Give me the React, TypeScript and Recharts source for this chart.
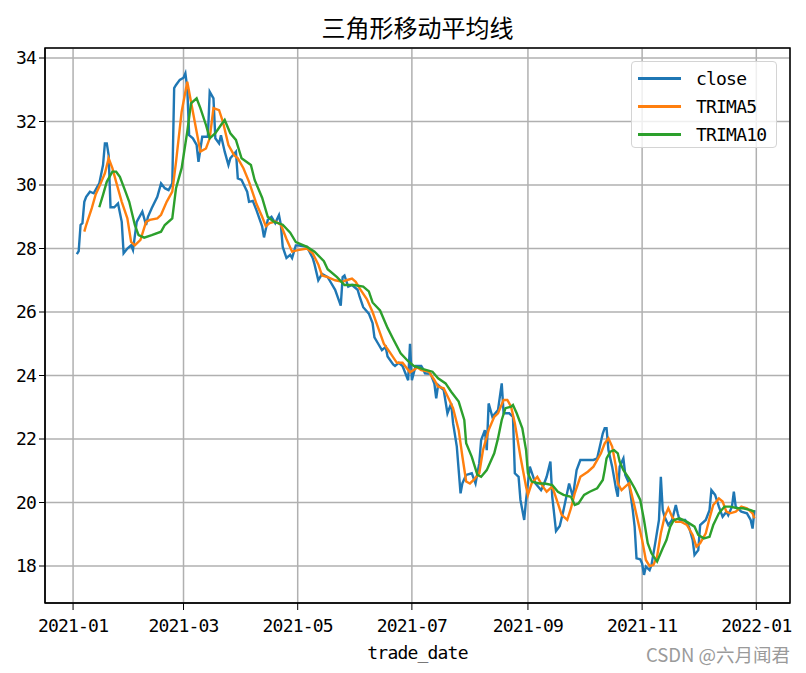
import { LineChart, Line, XAxis, YAxis, CartesianGrid, Legend, ReferenceArea } from 'recharts'

// values: [date, value]
const closeData: [string, number][] = [
  ['2021-01-03', 27.82], ['2021-01-04', 27.92], ['2021-01-05', 28.74], ['2021-01-06', 28.8],
  ['2021-01-07', 29.47], ['2021-01-08', 29.63], ['2021-01-10', 29.79], ['2021-01-12', 29.74],
  ['2021-01-14', 29.95], ['2021-01-15', 30.05], ['2021-01-17', 30.63], ['2021-01-18', 31.31],
  ['2021-01-19', 31.31], ['2021-01-20', 30.94], ['2021-01-21', 29.3], ['2021-01-23', 29.3],
  ['2021-01-25', 29.42], ['2021-01-27', 28.84], ['2021-01-28', 27.85], ['2021-01-30', 28.0],
  ['2021-02-01', 28.1], ['2021-02-02', 27.95], ['2021-02-04', 28.84], ['2021-02-05', 28.95],
  ['2021-02-07', 29.16], ['2021-02-09', 28.74], ['2021-02-10', 29.0], ['2021-02-12', 29.27],
  ['2021-02-15', 29.63], ['2021-02-17', 30.05], ['2021-02-19', 29.9], ['2021-02-21', 29.84],
  ['2021-02-23', 30.05], ['2021-02-24', 33.05], ['2021-02-25', 33.15], ['2021-02-27', 33.31],
  ['2021-03-01', 33.38], ['2021-03-02', 33.52], ['2021-03-03', 33.05], ['2021-03-04', 31.57],
  ['2021-03-06', 31.47], ['2021-03-08', 31.26], ['2021-03-09', 30.73], ['2021-03-11', 31.52],
  ['2021-03-14', 31.52], ['2021-03-15', 32.94], ['2021-03-17', 32.73], ['2021-03-18', 31.47],
  ['2021-03-20', 31.31], ['2021-03-21', 31.57], ['2021-03-23', 31.05], ['2021-03-25', 30.63],
  ['2021-03-26', 30.84], ['2021-03-29', 31.05], ['2021-03-30', 30.21], ['2021-04-01', 30.16],
  ['2021-04-04', 29.79], ['2021-04-05', 29.47], ['2021-04-07', 29.5], ['2021-04-09', 29.2],
  ['2021-04-12', 28.7], ['2021-04-13', 28.35], ['2021-04-15', 28.9], ['2021-04-17', 29.0],
  ['2021-04-19', 28.8], ['2021-04-21', 29.05], ['2021-04-22', 28.75], ['2021-04-23', 28.05],
  ['2021-04-25', 27.7], ['2021-04-27', 27.8], ['2021-04-28', 27.7], ['2021-04-30', 28.1],
  ['2021-05-01', 28.1], ['2021-05-06', 28.05], ['2021-05-09', 27.7], ['2021-05-10', 27.5],
  ['2021-05-12', 27.0], ['2021-05-14', 27.2], ['2021-05-17', 27.1], ['2021-05-18', 27.0],
  ['2021-05-21', 26.7], ['2021-05-24', 26.2], ['2021-05-25', 27.1], ['2021-05-26', 27.15],
  ['2021-05-28', 26.8], ['2021-05-30', 26.85], ['2021-06-02', 26.7], ['2021-06-03', 26.5],
  ['2021-06-05', 26.15], ['2021-06-08', 25.95], ['2021-06-10', 25.65], ['2021-06-11', 25.2],
  ['2021-06-13', 25.0], ['2021-06-15', 24.8], ['2021-06-17', 24.9], ['2021-06-18', 24.6],
  ['2021-06-21', 24.35], ['2021-06-22', 24.3], ['2021-06-24', 24.4], ['2021-06-26', 24.3],
  ['2021-06-29', 23.85], ['2021-06-30', 25.0], ['2021-07-01', 23.85], ['2021-07-03', 24.3],
  ['2021-07-06', 24.3], ['2021-07-07', 24.2], ['2021-07-08', 24.07], ['2021-07-11', 24.05],
  ['2021-07-13', 23.75], ['2021-07-14', 23.28], ['2021-07-15', 23.7], ['2021-07-18', 23.54],
  ['2021-07-20', 22.81], ['2021-07-22', 23.12], ['2021-07-23', 22.5], ['2021-07-25', 21.76],
  ['2021-07-27', 20.29], ['2021-07-28', 20.61], ['2021-07-30', 20.87], ['2021-08-02', 20.92],
  ['2021-08-04', 20.6], ['2021-08-06', 21.24], ['2021-08-07', 21.97], ['2021-08-09', 22.28],
  ['2021-08-10', 21.65], ['2021-08-11', 23.12], ['2021-08-13', 22.7], ['2021-08-16', 22.91],
  ['2021-08-18', 23.75], ['2021-08-19', 22.81], ['2021-08-22', 22.81], ['2021-08-24', 22.7],
  ['2021-08-25', 20.92], ['2021-08-27', 20.81], ['2021-08-28', 20.08], ['2021-08-30', 19.45],
  ['2021-08-31', 20.08], ['2021-09-02', 21.13], ['2021-09-05', 20.6], ['2021-09-08', 20.39],
  ['2021-09-09', 20.5], ['2021-09-11', 20.81], ['2021-09-13', 21.29], ['2021-09-14', 20.18],
  ['2021-09-16', 19.1], ['2021-09-18', 19.26], ['2021-09-20', 19.76], ['2021-09-23', 20.6],
  ['2021-09-25', 20.18], ['2021-09-27', 21.02], ['2021-09-29', 21.34], ['2021-10-03', 21.34],
  ['2021-10-06', 21.34], ['2021-10-08', 21.39], ['2021-10-11', 22.18], ['2021-10-12', 22.34],
  ['2021-10-13', 22.34], ['2021-10-14', 21.65], ['2021-10-16', 21.13], ['2021-10-18', 20.45],
  ['2021-10-19', 20.18], ['2021-10-20', 21.13], ['2021-10-22', 21.39], ['2021-10-23', 20.87],
  ['2021-10-25', 20.61], ['2021-10-27', 19.76], ['2021-10-28', 19.24], ['2021-10-29', 18.24],
  ['2021-10-31', 18.21], ['2021-11-01', 18.08], ['2021-11-02', 17.72], ['2021-11-03', 17.98],
  ['2021-11-05', 17.87], ['2021-11-06', 18.03], ['2021-11-08', 18.72], ['2021-11-10', 19.45],
  ['2021-11-11', 20.81], ['2021-11-12', 19.76], ['2021-11-13', 19.55], ['2021-11-15', 19.29],
  ['2021-11-17', 19.45], ['2021-11-19', 19.92], ['2021-11-20', 19.66], ['2021-11-21', 19.45],
  ['2021-11-24', 19.45], ['2021-11-26', 19.24], ['2021-11-28', 18.82], ['2021-11-29', 18.35],
  ['2021-12-01', 18.5], ['2021-12-02', 19.29], ['2021-12-05', 19.45], ['2021-12-07', 19.76],
  ['2021-12-08', 20.39], ['2021-12-10', 20.24], ['2021-12-12', 19.87], ['2021-12-14', 19.55],
  ['2021-12-16', 19.71], ['2021-12-17', 19.6], ['2021-12-19', 19.87], ['2021-12-20', 20.34],
  ['2021-12-21', 19.87], ['2021-12-24', 19.71], ['2021-12-27', 19.66], ['2021-12-29', 19.45],
  ['2021-12-30', 19.18], ['2021-12-31', 19.76],
]

const trima5Data: [string, number][] = [
  ['2021-01-07', 28.53], ['2021-01-08', 28.74], ['2021-01-11', 29.27], ['2021-01-13', 29.69],
  ['2021-01-15', 29.95], ['2021-01-18', 30.37], ['2021-01-20', 30.84], ['2021-01-22', 30.53],
  ['2021-01-24', 30.1], ['2021-01-27', 29.47], ['2021-01-30', 28.95], ['2021-02-01', 28.21],
  ['2021-02-03', 28.1], ['2021-02-06', 28.27], ['2021-02-09', 28.84], ['2021-02-11', 28.9],
  ['2021-02-15', 28.95], ['2021-02-17', 29.06], ['2021-02-20', 29.47], ['2021-02-23', 29.79],
  ['2021-02-25', 30.73], ['2021-02-28', 32.31], ['2021-03-03', 33.25], ['2021-03-05', 32.62],
  ['2021-03-08', 31.68], ['2021-03-10', 31.05], ['2021-03-13', 31.15], ['2021-03-15', 31.47],
  ['2021-03-17', 32.42], ['2021-03-20', 32.36], ['2021-03-22', 32.0], ['2021-03-25', 31.26],
  ['2021-03-28', 30.94], ['2021-03-30', 30.84], ['2021-04-02', 30.53], ['2021-04-05', 30.1],
  ['2021-04-09', 29.4], ['2021-04-12', 29.0], ['2021-04-14', 28.7], ['2021-04-16', 28.8],
  ['2021-04-19', 28.85], ['2021-04-22', 28.75], ['2021-04-25', 28.3], ['2021-04-28', 27.9],
  ['2021-05-01', 27.95], ['2021-05-06', 28.0], ['2021-05-09', 27.85], ['2021-05-12', 27.5],
  ['2021-05-14', 27.15], ['2021-05-17', 27.1], ['2021-05-21', 27.0], ['2021-05-25', 26.95],
  ['2021-05-27', 27.0], ['2021-05-30', 27.05], ['2021-06-01', 26.95], ['2021-06-03', 26.75],
  ['2021-06-07', 26.4], ['2021-06-10', 26.0], ['2021-06-13', 25.5], ['2021-06-16', 25.0],
  ['2021-06-19', 24.75], ['2021-06-23', 24.4], ['2021-06-26', 24.4], ['2021-06-30', 24.1],
  ['2021-07-04', 24.25], ['2021-07-06', 24.17], ['2021-07-10', 24.12], ['2021-07-13', 23.86],
  ['2021-07-15', 23.65], ['2021-07-18', 23.6], ['2021-07-21', 23.23], ['2021-07-23', 22.97],
  ['2021-07-26', 22.28], ['2021-07-28', 21.44], ['2021-07-30', 20.66], ['2021-08-01', 20.6],
  ['2021-08-03', 20.71], ['2021-08-06', 20.92], ['2021-08-08', 21.65], ['2021-08-11', 22.28],
  ['2021-08-14', 22.7], ['2021-08-16', 22.81], ['2021-08-19', 23.23], ['2021-08-21', 23.23],
  ['2021-08-23', 23.02], ['2021-08-25', 22.5], ['2021-08-28', 21.44], ['2021-08-31', 20.5],
  ['2021-09-01', 20.24], ['2021-09-03', 20.6], ['2021-09-06', 20.81], ['2021-09-09', 20.5],
  ['2021-09-11', 20.34], ['2021-09-14', 20.5], ['2021-09-17', 19.97], ['2021-09-19', 19.61],
  ['2021-09-22', 19.45], ['2021-09-24', 19.82], ['2021-09-26', 20.29], ['2021-09-29', 20.81],
  ['2021-10-03', 20.97], ['2021-10-06', 21.13], ['2021-10-10', 21.55], ['2021-10-12', 21.86],
  ['2021-10-14', 22.02], ['2021-10-16', 21.76], ['2021-10-18', 21.13], ['2021-10-19', 20.6],
  ['2021-10-21', 20.39], ['2021-10-23', 20.5], ['2021-10-25', 20.6], ['2021-10-28', 19.87],
  ['2021-10-30', 19.35], ['2021-11-01', 18.82], ['2021-11-03', 18.19], ['2021-11-05', 18.0],
  ['2021-11-07', 18.03], ['2021-11-09', 18.3], ['2021-11-11', 19.03], ['2021-11-13', 19.55],
  ['2021-11-15', 19.82], ['2021-11-17', 19.55], ['2021-11-19', 19.39], ['2021-11-22', 19.39],
  ['2021-11-25', 19.29], ['2021-11-28', 18.98], ['2021-11-30', 18.61], ['2021-12-02', 18.72],
  ['2021-12-05', 19.03], ['2021-12-07', 19.5], ['2021-12-09', 19.92], ['2021-12-12', 20.13],
  ['2021-12-14', 20.03], ['2021-12-16', 19.71], ['2021-12-18', 19.66], ['2021-12-21', 19.71],
  ['2021-12-24', 19.87], ['2021-12-27', 19.82], ['2021-12-30', 19.66], ['2021-12-31', 19.5],
]

const trima10Data: [string, number][] = [
  ['2021-01-15', 29.3], ['2021-01-17', 29.69], ['2021-01-19', 30.1], ['2021-01-22', 30.42],
  ['2021-01-24', 30.42], ['2021-01-26', 30.26], ['2021-01-29', 29.79], ['2021-01-31', 29.47],
  ['2021-02-03', 28.74], ['2021-02-05', 28.42], ['2021-02-08', 28.34], ['2021-02-12', 28.42],
  ['2021-02-17', 28.53], ['2021-02-19', 28.74], ['2021-02-23', 28.95], ['2021-02-25', 29.9],
  ['2021-02-28', 30.53], ['2021-03-03', 31.68], ['2021-03-05', 32.57], ['2021-03-08', 32.73],
  ['2021-03-10', 32.42], ['2021-03-13', 31.89], ['2021-03-15', 31.47], ['2021-03-18', 31.63],
  ['2021-03-21', 31.89], ['2021-03-23', 32.05], ['2021-03-26', 31.63], ['2021-03-29', 31.42],
  ['2021-04-01', 30.84], ['2021-04-06', 30.63], ['2021-04-08', 30.16], ['2021-04-12', 29.6],
  ['2021-04-15', 29.0], ['2021-04-18', 28.85], ['2021-04-23', 28.75], ['2021-04-27', 28.5],
  ['2021-04-30', 28.2], ['2021-05-06', 28.05], ['2021-05-10', 27.9], ['2021-05-15', 27.6],
  ['2021-05-17', 27.35], ['2021-05-22', 27.1], ['2021-05-26', 26.85], ['2021-05-31', 26.85],
  ['2021-06-05', 26.8], ['2021-06-08', 26.65], ['2021-06-10', 26.3], ['2021-06-14', 26.05],
  ['2021-06-18', 25.5], ['2021-06-21', 25.15], ['2021-06-25', 24.7], ['2021-06-29', 24.45],
  ['2021-07-02', 24.3], ['2021-07-07', 24.2], ['2021-07-12', 24.12], ['2021-07-15', 23.91],
  ['2021-07-19', 23.75], ['2021-07-22', 23.49], ['2021-07-26', 23.18], ['2021-07-29', 22.6],
  ['2021-07-30', 21.87], ['2021-08-02', 21.44], ['2021-08-05', 20.87], ['2021-08-07', 20.81],
  ['2021-08-10', 21.02], ['2021-08-14', 21.55], ['2021-08-16', 22.02], ['2021-08-18', 22.6],
  ['2021-08-20', 22.97], ['2021-08-23', 23.02], ['2021-08-24', 23.07], ['2021-08-26', 22.81],
  ['2021-08-29', 22.34], ['2021-08-31', 21.65], ['2021-09-01', 20.92], ['2021-09-03', 20.66],
  ['2021-09-07', 20.6], ['2021-09-10', 20.6], ['2021-09-14', 20.55], ['2021-09-17', 20.34],
  ['2021-09-20', 20.24], ['2021-09-24', 20.18], ['2021-09-26', 19.92], ['2021-09-28', 19.97],
  ['2021-10-01', 20.24], ['2021-10-04', 20.34], ['2021-10-08', 20.45], ['2021-10-11', 20.71],
  ['2021-10-12', 21.02], ['2021-10-13', 21.39], ['2021-10-15', 21.6], ['2021-10-17', 21.65],
  ['2021-10-19', 21.55], ['2021-10-20', 21.29], ['2021-10-22', 21.02], ['2021-10-25', 20.76],
  ['2021-10-28', 20.45], ['2021-10-31', 20.08], ['2021-11-02', 19.45], ['2021-11-04', 18.72],
  ['2021-11-06', 18.4], ['2021-11-09', 18.14], ['2021-11-12', 18.56], ['2021-11-14', 18.82],
  ['2021-11-16', 19.24], ['2021-11-18', 19.45], ['2021-11-21', 19.5], ['2021-11-25', 19.39],
  ['2021-11-29', 19.24], ['2021-12-01', 18.98], ['2021-12-04', 18.87], ['2021-12-07', 18.92],
  ['2021-12-09', 19.29], ['2021-12-12', 19.66], ['2021-12-15', 19.87], ['2021-12-18', 19.87],
  ['2021-12-22', 19.82], ['2021-12-25', 19.82], ['2021-12-29', 19.76], ['2021-12-31', 19.71],
]

const xTicks = ['2021-01-01', '2021-03-01', '2021-05-01', '2021-07-01', '2021-09-01', '2021-11-01', '2022-01-01']
const yTicks = [18, 20, 22, 24, 26, 28, 30, 32, 34]
const seriesNames = ['close', 'TRIMA5', 'TRIMA10']
const colors = ['#1f77b4', '#ff7f0e', '#2ca02c']

const xDomain = [Date.parse('2020-12-17'), Date.parse('2022-01-19')]
const yDomain = [16.835, 34.315]

const MONO = '"DejaVu Sans Mono", monospace'
const CJK = '"Noto Sans CJK SC", sans-serif'

function toPoints(rows: [string, number][]) {
  return rows.map(([d, v]) => ({ t: Date.parse(d), v }))
}

function formatMonth(t: number) {
  return new Date(t).toISOString().slice(0, 7)
}

function LegendBox() {
  return (
    <div
      style={{
        width: 146,
        height: 87,
        border: '1px solid #d4d4d4',
        borderRadius: 4,
        background: 'rgba(255,255,255,0.8)',
        boxSizing: 'border-box',
        paddingTop: 2,
      }}
    >
      {seriesNames.map((name, i) => (
        <div key={name} style={{ display: 'flex', alignItems: 'center', height: 28 }}>
          <div style={{ width: 43, height: 3, background: colors[i], marginLeft: 6 }} />
          <span style={{ marginLeft: 15, fontFamily: MONO, fontSize: 18, letterSpacing: -0.8, color: '#000' }}>
            {name}
          </span>
        </div>
      ))}
    </div>
  )
}

export default function App() {
  const tickStyle = { fill: '#000', fontSize: 18, fontFamily: MONO, letterSpacing: -0.8 }
  return (
    <div style={{ position: 'absolute', left: 0, top: 0, width: 806, height: 673, background: '#fff' }}>
      <div
        style={{
          position: 'absolute',
          left: 45,
          width: 745,
          top: 12,
          textAlign: 'center',
          fontFamily: CJK,
          fontSize: 24,
          lineHeight: '30px',
          color: '#000',
        }}
      >
        三角形移动平均线
      </div>
      <LineChart width={806} height={673} margin={{ top: 48, right: 16, bottom: 0, left: 0 }}>
        <CartesianGrid stroke="#b0b0b0" strokeWidth={1.5} />
        <XAxis
          dataKey="t"
          type="number"
          domain={xDomain}
          allowDataOverflow
          ticks={xTicks.map((d) => Date.parse(d))}
          tickFormatter={formatMonth}
          height={70}
          tickSize={7}
          tickMargin={9}
          stroke="#000"
          tick={tickStyle}
          label={{ value: 'trade_date', position: 'insideBottom', offset: 14, style: { ...tickStyle } }}
        />
        <YAxis
          type="number"
          domain={yDomain}
          allowDataOverflow
          ticks={yTicks}
          width={45}
          tickSize={6}
          tickMargin={3}
          stroke="#000"
          tick={tickStyle}
        />
        <ReferenceArea
          x1={xDomain[0]}
          x2={xDomain[1]}
          y1={yDomain[0]}
          y2={yDomain[1]}
          fill="none"
          stroke="#000"
          strokeWidth={1.5}
          strokeOpacity={1}
          ifOverflow="visible"
        />
        <Line data={toPoints(closeData)} dataKey="v" name="close" stroke={colors[0]} strokeWidth={2.4} dot={false} isAnimationActive={false} />
        <Line data={toPoints(trima5Data)} dataKey="v" name="TRIMA5" stroke={colors[1]} strokeWidth={2.4} dot={false} isAnimationActive={false} />
        <Line data={toPoints(trima10Data)} dataKey="v" name="TRIMA10" stroke={colors[2]} strokeWidth={2.4} dot={false} isAnimationActive={false} />
        <Legend
          layout="vertical"
          align="center"
          verticalAlign="middle"
          wrapperStyle={{ left: 631, top: 61, width: 146, height: 87 }}
          content={() => <LegendBox />}
        />
      </LineChart>
      <div
        style={{
          position: 'absolute',
          right: 16,
          top: 642,
          fontFamily: CJK,
          fontSize: 18.5,
          lineHeight: '24px',
          color: '#9a9a9a',
        }}
      >
        CSDN @六月闻君
      </div>
    </div>
  )
}
